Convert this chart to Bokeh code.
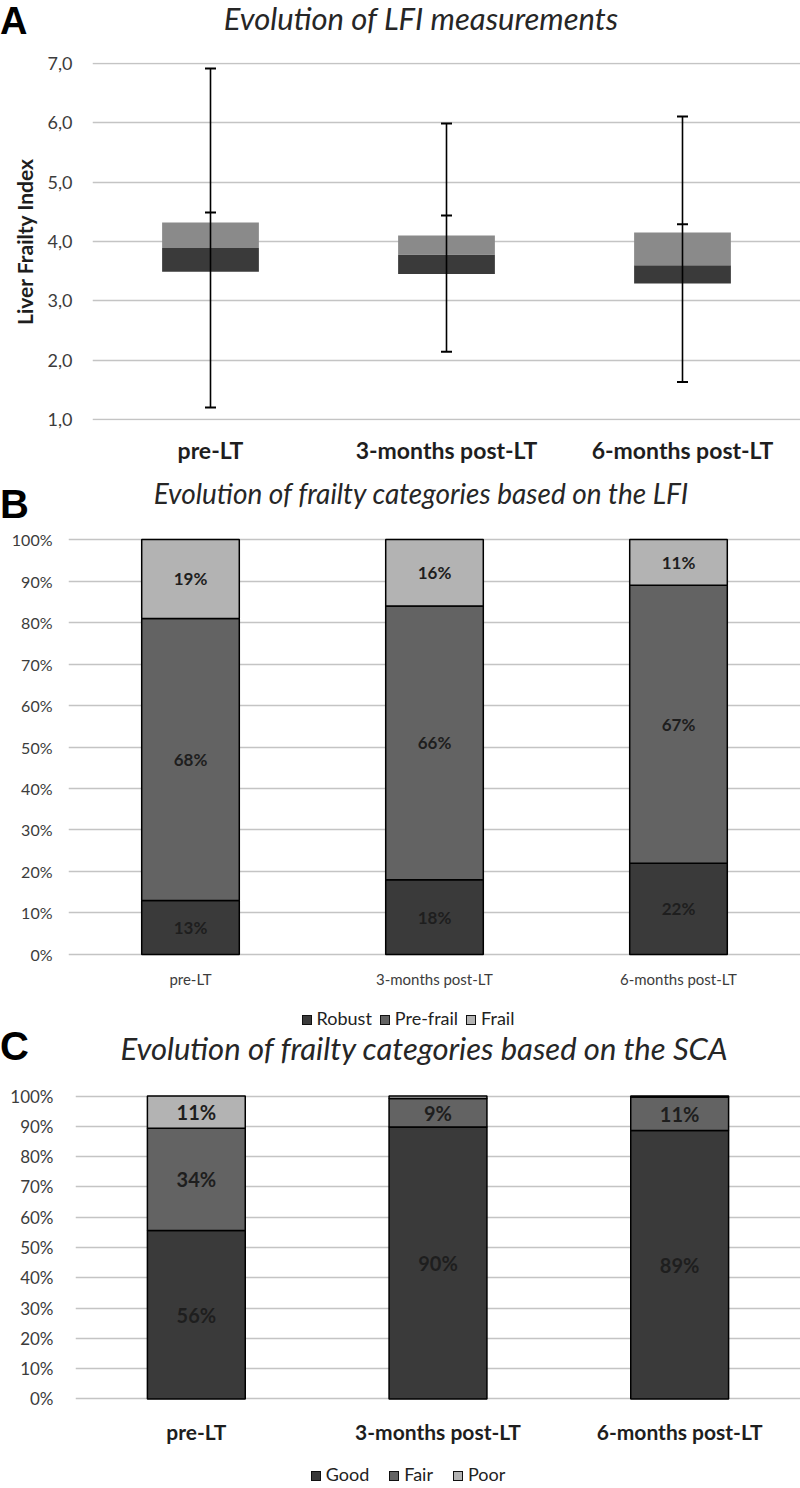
from bokeh.plotting import figure
from bokeh.models import Range1d, FixedTicker, Div, ColumnDataSource
from bokeh.layouts import column
from bokeh.embed import file_html
from bokeh.resources import INLINE
from bokeh.core.properties import value

# ---------------- data ----------------
categories = ["pre-LT", "3-months post-LT", "6-months post-LT"]

# Panel A: LFI box plot (stacked-bar style box plot)
lfi_min = [1.20, 2.14, 1.63]
lfi_q1 = [3.49, 3.45, 3.29]
lfi_median = [3.89, 3.78, 3.60]
lfi_q3 = [4.32, 4.10, 4.15]
lfi_inner_tick = [4.49, 4.44, 4.29]
lfi_max = [6.92, 5.99, 6.11]
lfi_ticks = [1, 2, 3, 4, 5, 6, 7]
lfi_tick_labels = ["1,0", "2,0", "3,0", "4,0", "5,0", "6,0", "7,0"]

# Panel B: frailty categories based on LFI (%)
lfi_cat_names = ["Robust", "Pre-frail", "Frail"]
robust = [13, 18, 22]
prefrail = [68, 66, 67]
frail = [19, 16, 11]

# Panel C: frailty categories based on SCA (%)
sca_cat_names = ["Good", "Fair", "Poor"]
good = [55.6, 89.8, 88.6]
fair = [33.8, 9.4, 11.1]
poor = [10.6, 0.8, 0.3]

pct_ticks = [0, 10, 20, 30, 40, 50, 60, 70, 80, 90, 100]
pct_tick_labels = ["0%", "10%", "20%", "30%", "40%", "50%", "60%", "70%", "80%", "90%", "100%"]

titles = ["Evolution of LFI measurements",
          "Evolution of frailty categories based on the LFI",
          "Evolution of frailty categories based on the SCA"]
panel_letters = ["A", "B", "C"]

# ---------------- style ----------------
FONT = "Lato"
DARK = "#3a3a3a"
MID = "#636363"
LIGHT = "#b3b3b3"
BOXLIGHT = "#8a8a8a"
GRID = "#c4c4c4"
TXT = "#1e1e1e"
TICK = "#3c3c3c"
W = 800
xs = [i + 0.5 for i in range(len(categories))]


def make_fig(height, bl, bt, bb, y0, y1):
    p = figure(width=W, height=height, x_range=Range1d(0, 3), y_range=Range1d(y0, y1),
               output_backend="svg", toolbar_location=None,
               min_border_left=bl, min_border_right=0, min_border_top=bt, min_border_bottom=bb)
    p.outline_line_color = None
    p.background_fill_color = "white"
    p.border_fill_color = "white"
    p.xgrid.visible = False
    p.ygrid.grid_line_color = GRID
    p.ygrid.grid_line_width = 1.6
    for ax in (p.xaxis[0], p.yaxis[0]):
        ax.axis_line_color = None
        ax.major_tick_line_color = None
        ax.minor_tick_line_color = None
        ax.major_tick_out = 0
        ax.major_tick_in = 0
        ax.minor_tick_out = 0
        ax.minor_tick_in = 0
        ax.major_label_text_font = FONT
    p.xaxis.ticker = FixedTicker(ticks=xs)
    p.xaxis.major_label_overrides = {x: c for x, c in zip(xs, categories)}
    return p


def heading(letter, title, height, letter_size, letter_lh, title_size, title_lh, title_cx):
    html = (f'<div style="position:relative;width:{W}px;height:{height}px;">'
            f'<div style="position:absolute;left:0px;top:0px;font-family:\'Liberation Sans\';'
            f'font-weight:bold;font-size:{letter_size}px;line-height:{letter_lh}px;color:#000;">{letter}</div>'
            f'<div style="position:absolute;left:{title_cx - W // 2}px;width:{W}px;top:0px;'
            f'text-align:center;font-family:{FONT};font-style:italic;font-size:{title_size}px;'
            f'line-height:{title_lh}px;color:#262626;white-space:nowrap;">{title}</div></div>')
    return Div(text=html, width=W, height=height, margin=0)


# ---------------- Panel A ----------------
headA = heading(panel_letters[0], titles[0], 48, 38, 43, 31, 37, 421)
pA = make_fig(422, 92, 14, 50, 0.98, 7.02)
pA.yaxis.ticker = FixedTicker(ticks=lfi_ticks)
pA.yaxis.major_label_overrides = {t: l for t, l in zip(lfi_ticks, lfi_tick_labels)}
pA.yaxis.major_label_text_font_size = "18px"
pA.yaxis.major_label_text_color = TICK
pA.yaxis.major_label_standoff = 20
pA.yaxis.axis_label = "Liver Frailty Index"
pA.yaxis.axis_label_text_font = FONT
pA.yaxis.axis_label_text_font_style = "bold"
pA.yaxis.axis_label_text_font_size = "21px"
pA.yaxis.axis_label_text_color = TXT
pA.yaxis.axis_label_standoff = 8
pA.xaxis.major_label_text_font_size = "23px"
pA.xaxis.major_label_text_font_style = "bold"
pA.xaxis.major_label_text_color = TXT
pA.xaxis.major_label_standoff = 15

srcA = ColumnDataSource(dict(x=xs, mn=lfi_min, q1=lfi_q1, med=lfi_median, q3=lfi_q3,
                             inner=lfi_inner_tick, mx=lfi_max))
pA.vbar(x="x", width=0.41, bottom="q1", top="med", source=srcA, fill_color=DARK, line_color=None)
pA.vbar(x="x", width=0.41, bottom="med", top="q3", source=srcA, fill_color=BOXLIGHT, line_color=None)
pA.segment(x0="x", y0="mn", x1="x", y1="mx", source=srcA, line_color="black", line_width=1.6)
for col in ("mn", "inner", "mx"):
    pA.scatter(x="x", y=col, source=srcA, marker="dash", size=11, line_color="black", line_width=2)


# ---------------- stacked panels ----------------
def stacked(p, series, colors, width, label_size):
    bottoms = [0.0] * len(xs)
    lx, ly, lt = [], [], []
    for vals, col in zip(series, colors):
        tops = [b + v for b, v in zip(bottoms, vals)]
        p.vbar(x=xs, width=width, bottom=bottoms, top=tops, fill_color=col,
               line_color="black", line_width=1.5)
        for x, b, t, v in zip(xs, bottoms, tops, vals):
            if v >= 5:
                lx.append(x)
                ly.append((b + t) / 2)
                lt.append(f"{round(v)}%")
        bottoms = tops
    p.text(x=lx, y=ly, text=lt, text_font=value(FONT), text_font_style="bold",
           text_font_size=label_size, text_color=TXT, text_align="center", text_baseline="middle")


def pct_axis(p, size, standoff):
    p.yaxis.ticker = FixedTicker(ticks=pct_ticks)
    p.yaxis.major_label_overrides = {t: l for t, l in zip(pct_ticks, pct_tick_labels)}
    p.yaxis.major_label_text_font_size = size
    p.yaxis.major_label_text_color = TICK
    p.yaxis.major_label_standoff = standoff


def legend_div(names, colors, height, pad_top, gap):
    items = "".join(
        f'<span style="display:inline-block;margin:0 {gap}px;white-space:nowrap;">'
        f'<span style="display:inline-block;width:10px;height:10px;background:{c};border:1px solid #111;'
        f'vertical-align:0px;margin-right:5px;"></span>{n}</span>'
        for n, c in zip(names, colors))
    html = (f'<div style="width:{W}px;height:{height}px;text-align:center;padding-top:{pad_top}px;'
            f'padding-left:16px;box-sizing:border-box;font-family:{FONT};font-size:18px;color:#222;'
            f'line-height:18px;">{items}</div>')
    return Div(text=html, width=W, height=height, margin=0)


# Panel B
headB = heading(panel_letters[1], titles[1], 50, 40, 68, 28, 47, 421)
pB = make_fig(470, 68, 17, 32, -0.5, 100.5)
pct_axis(pB, "16px", 16)
pB.xaxis.major_label_text_font_size = "15px"
pB.xaxis.major_label_text_color = TICK
pB.xaxis.major_label_standoff = 13
stacked(pB, [robust, prefrail, frail], [DARK, MID, LIGHT], 0.40, "17px")
legB = legend_div(lfi_cat_names, [DARK, MID, LIGHT], 40, 19, 4)

# Panel C
headC = heading(panel_letters[2], titles[2], 50, 40, 32, 31, 37, 424)
pC = make_fig(367, 75, 14, 47, -0.5, 100.5)
pct_axis(pC, "17px", 22)
pC.xaxis.major_label_text_font_size = "21px"
pC.xaxis.major_label_text_font_style = "bold"
pC.xaxis.major_label_text_color = TXT
pC.xaxis.major_label_standoff = 18
stacked(pC, [good, fair, poor], [DARK, MID, LIGHT], 0.405, "20px")
legC = legend_div(sca_cat_names, [DARK, MID, LIGHT], 41, 18, 10)

# separate roots so each panel keeps its own plot-area geometry
rootA = column(headA, pA, spacing=0)
rootB = column(headB, pB, legB, spacing=0)
rootC = column(headC, pC, legC, spacing=0)
open("out.html", "w").write(file_html([rootA, rootB, rootC], INLINE))
